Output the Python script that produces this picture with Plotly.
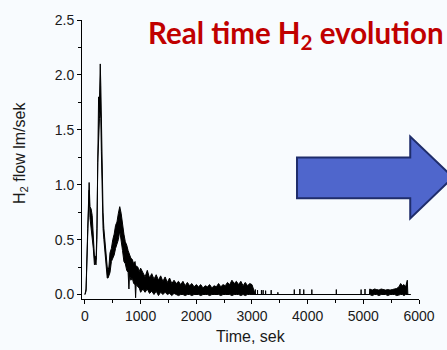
import plotly.graph_objects as go

# ---- data ----
t_main = [0, 20, 50, 75, 90, 110, 130, 150, 170, 185, 200, 215, 230, 245, 260, 275, 285,
          295, 310, 325, 340, 360, 380, 400, 415, 430, 450, 475, 500, 525, 550, 575, 600,
          625, 650, 675, 700, 725, 750, 775, 790, 800, 825, 850, 875, 900, 910, 920, 950,
          975, 1000]
upper_main = [0.0, 0.05, 0.6, 1.02, 0.8, 0.78, 0.72, 0.55, 0.35, 0.35, 0.32, 0.6, 1.5, 1.8,
              1.75, 2.1, 1.9, 1.6, 1.0, 0.75, 0.6, 0.45, 0.3, 0.25, 0.22, 0.25, 0.38, 0.42,
              0.5, 0.55, 0.63, 0.66, 0.74, 0.8, 0.74, 0.62, 0.55, 0.48, 0.45, 0.4, 0.38, 0.36,
              0.33, 0.32, 0.28, 0.3, 0.25, 0.26, 0.25, 0.21, 0.24]
lower_main = [0.0, 0.03, 0.55, 0.95, 0.7, 0.62, 0.55, 0.42, 0.27, 0.28, 0.27, 0.5, 1.2, 1.5,
              1.6, 1.7, 1.6, 1.3, 0.8, 0.6, 0.5, 0.38, 0.2, 0.15, 0.15, 0.17, 0.2, 0.3, 0.33,
              0.36, 0.42, 0.46, 0.5, 0.58, 0.46, 0.4, 0.3, 0.28, 0.22, 0.2, 0.05, 0.18, 0.13,
              0.15, 0.1, 0.09, -0.03, 0.09, 0.07, 0.06, 0.02]

t_band = [1040, 1080, 1120, 1160, 1200, 1240, 1280, 1320, 1360, 1400, 1440, 1480, 1520,
          1560, 1600, 1640, 1680, 1720, 1760, 1800, 1840, 1880, 1920, 1960, 2000, 2040,
          2080, 2120, 2160, 2200, 2240, 2280, 2320, 2360, 2400, 2440, 2480, 2520, 2560,
          2600, 2640, 2680, 2720, 2760, 2800, 2840, 2880, 2920, 2960, 3000]
upper_band = [0.2, 0.16, 0.22, 0.15, 0.19, 0.14, 0.18, 0.13, 0.17, 0.12, 0.16, 0.11, 0.15,
              0.1, 0.13, 0.1, 0.12, 0.09, 0.12, 0.08, 0.11, 0.08, 0.1, 0.07, 0.09, 0.07,
              0.09, 0.06, 0.08, 0.07, 0.09, 0.06, 0.08, 0.07, 0.1, 0.07, 0.09, 0.08, 0.11,
              0.09, 0.13, 0.1, 0.12, 0.09, 0.12, 0.08, 0.11, 0.08, 0.1, 0.09]
lower_band = [0.05, 0.02, 0.05, 0.01, 0.03, 0.0, 0.03, -0.01, 0.02, 0.0, 0.02, 0.0, 0.01,
              -0.01, 0.01, 0.0, -0.01, 0.0, 0.0, -0.01, 0.0, 0.0, -0.01, 0.0, 0.0, 0.0,
              -0.01, 0.0, 0.0, 0.0, -0.01, 0.0, 0.0, 0.0, 0.0, -0.01, 0.0, 0.0, 0.0, 0.0,
              -0.01, 0.0, 0.0, 0.0, -0.01, 0.0, -0.01, 0.0, 0.0, 0.0]

# isolated spikes in the quiet part (time, height)
spike_t = [3060, 3100, 3170, 3200, 3245, 3345, 3465, 3760, 3860, 3930, 4075, 4515, 4960, 5030]
spike_h = [0.045, 0.04, 0.04, 0.04, 0.035, 0.04, 0.02, 0.045, 0.05, 0.045, 0.045, 0.045,
           0.045, 0.05]

t_late = [5110, 5115, 5160, 5200, 5240, 5280, 5320, 5360, 5400, 5440, 5480, 5520, 5560,
          5600, 5640, 5670, 5700, 5730, 5760, 5790, 5800, 5850]
upper_late = [0.0, 0.05, 0.04, 0.05, 0.045, 0.04, 0.05, 0.045, 0.04, 0.045, 0.04, 0.045,
              0.05, 0.055, 0.07, 0.1, 0.08, 0.09, 0.07, 0.13, 0.0, 0.0]
lower_late = [0.0, 0.0, -0.01, 0.0, 0.0, -0.01, 0.0, 0.0, 0.0, -0.01, 0.0, 0.0, 0.0,
              -0.01, 0.0, 0.0, 0.0, -0.01, 0.0, 0.0, 0.0, 0.0]

# ---- assemble series ----
t_all, up_all, lo_all = [], [], []
t_all += t_main; up_all += upper_main; lo_all += lower_main
t_all += t_band; up_all += upper_band; lo_all += lower_band
for ts, hs in zip(spike_t, spike_h):
    t_all += [ts, ts, ts]
    up_all += [0.0, hs, 0.0]
    lo_all += [0.0, 0.0, 0.0]
t_all += t_late; up_all += upper_late; lo_all += lower_late

fig = go.Figure()
fig.add_trace(go.Scatter(x=t_all, y=lo_all, mode="lines",
                         line=dict(color="black", width=1), hoverinfo="skip"))
fig.add_trace(go.Scatter(x=t_all, y=up_all, mode="lines", fill="tonexty",
                         fillcolor="black", line=dict(color="black", width=1),
                         hoverinfo="skip"))

tickfont = dict(family="Liberation Sans, Arial", size=14, color="#1a1a1a")
fig.update_xaxes(range=[-53, 6000], tickvals=[0, 1000, 2000, 3000, 4000, 5000, 6000],
                 ticks="outside", ticklen=4, tickcolor="black", showline=True,
                 linecolor="black", linewidth=1, showgrid=False, zeroline=False,
                 minor=dict(ticks="outside", ticklen=3, dtick=500, tickcolor="black",
                            showgrid=False),
                 tickfont=tickfont)
fig.update_yaxes(range=[-0.041, 2.5], tickvals=[0, 0.5, 1, 1.5, 2, 2.5],
                 ticktext=["0.0", "0.5", "1.0", "1.5", "2.0", "2.5"],
                 ticks="outside", ticklen=4, tickcolor="black", showline=True,
                 linecolor="black", linewidth=1, showgrid=False, zeroline=False,
                 minor=dict(ticks="outside", ticklen=3, dtick=0.25, tickcolor="black",
                            showgrid=False),
                 tickfont=tickfont)

# arrow (decoration, paper coordinates)
fig.add_shape(type="path", xref="paper", yref="paper",
              path="M 0.638 0.507 L 0.974 0.507 L 0.974 0.582 L 1.101 0.436 "
                   "L 0.974 0.289 L 0.974 0.361 L 0.638 0.361 Z",
              fillcolor="#4f66cc", line=dict(color="#1f2d6b", width=2), layer="above")

fig.add_annotation(text="Real time H<sub>2</sub> evolution", xref="paper", yref="paper",
                   x=(148 - 82) / 345, y=(299 - 34) / 280, xanchor="left", yanchor="middle",
                   showarrow=False,
                   font=dict(family="Lato", size=29.5, color="#c00000", weight="bold"))
fig.add_annotation(text="H<sub>2</sub> flow lm/sek", xref="paper", yref="paper",
                   x=(19 - 82) / 345, y=(299 - 152) / 280, xanchor="center",
                   yanchor="middle", textangle=-90, showarrow=False,
                   font=dict(family="Liberation Sans, Arial", size=16, color="#1a1a1a"))
fig.add_annotation(text="Time, sek", xref="paper", yref="paper",
                   x=(255 - 82) / 345, y=(299 - 337) / 280, xanchor="center",
                   yanchor="middle", showarrow=False,
                   font=dict(family="Liberation Sans, Arial", size=16, color="#1a1a1a"))

fig.update_layout(width=447, height=350, margin=dict(l=82, r=20, t=19, b=51),
                  paper_bgcolor="#f8fbfe", plot_bgcolor="rgba(0,0,0,0)",
                  showlegend=False)

fig.write_html("out.html")
